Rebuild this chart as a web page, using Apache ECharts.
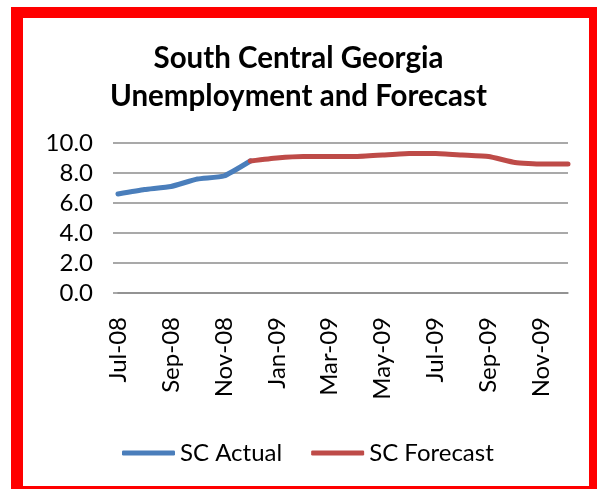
<!DOCTYPE html>
<html>
<head>
<meta charset="utf-8">
<script src="https://cdn.jsdelivr.net/npm/echarts@6/dist/echarts.min.js"></script>
<style>
  html, body { margin: 0; padding: 0; background: #fff; }
  #chart { width: 597px; height: 489px; }
</style>
</head>
<body>
<div id="chart"></div>
<script>
// Monthly categories, Jul 2008 through Dec 2009
const months = ['Jul-08','Aug-08','Sep-08','Oct-08','Nov-08','Dec-08',
                'Jan-09','Feb-09','Mar-09','Apr-09','May-09','Jun-09',
                'Jul-09','Aug-09','Sep-09','Oct-09','Nov-09','Dec-09'];
// Observed unemployment rate (%)
const scActual = [6.6, 6.9, 7.1, 7.6, 7.8, 8.8,
                  null, null, null, null, null, null,
                  null, null, null, null, null, null];
// Forecast unemployment rate (%), joined to the last observed month
const scForecast = [null, null, null, null, null, 8.8,
                    9.0, 9.1, 9.1, 9.1, 9.2, 9.3,
                    9.3, 9.2, 9.1, 8.7, 8.6, 8.6];
const yTicks = [0, 2, 4, 6, 8, 10];

const FONT = 'Lato, "Open Sans", sans-serif';
const chart = echarts.init(document.getElementById('chart'), null, { renderer: 'canvas' });

chart.setOption({
  backgroundColor: '#ffffff',
  animation: false,
  graphic: [
    { type: 'rect', z: -10, silent: true,
      shape: { x: 11, y: 7, width: 586, height: 482 },
      style: { fill: '#ff0000' } },
    { type: 'rect', z: -9, silent: true,
      shape: { x: 23, y: 18, width: 566, height: 468 },
      style: { fill: '#ffffff' } }
  ],
  title: {
    text: 'South Central Georgia\nUnemployment and Forecast',
    left: 'center',
    top: 34,
    textStyle: {
      fontFamily: FONT, fontWeight: 'bold', fontSize: 29.5,
      lineHeight: 38, color: '#000'
    }
  },
  legend: {
    left: 117,
    top: 436,
    itemWidth: 53,
    itemHeight: 5,
    itemGap: 29,
    icon: 'roundRect',
    textStyle: { fontFamily: FONT, fontSize: 24, color: '#000' },
    data: ['SC Actual', 'SC Forecast']
  },
  grid: { left: 118, right: 29, top: 143, bottom: 196, containLabel: false },
  xAxis: {
    type: 'category',
    data: months,
    boundaryGap: false,
    axisLine: { show: true, lineStyle: { color: '#8c8c8c', width: 1.5 } },
    axisTick: { show: false },
    axisLabel: {
      interval: 1, rotate: 90, margin: 24,
      fontFamily: FONT, fontSize: 24, color: '#000'
    }
  },
  yAxis: {
    type: 'value',
    min: yTicks[0],
    max: yTicks[yTicks.length - 1],
    interval: 2,
    axisLine: { show: false },
    axisTick: { show: true, length: 5, lineStyle: { color: '#8c8c8c', width: 1.5 } },
    splitLine: { lineStyle: { color: '#8c8c8c', width: 1.5 } },
    axisLabel: {
      margin: 25,
      fontFamily: FONT, fontSize: 24, color: '#000',
      formatter: v => v.toFixed(1)
    }
  },
  series: [
    {
      name: 'SC Actual', type: 'line', data: scActual,
      showSymbol: false, smooth: 0.15, connectNulls: false,
      itemStyle: { color: '#4a7ebb' },
      lineStyle: { color: '#4a7ebb', width: 5, cap: 'round', join: 'round' }
    },
    {
      name: 'SC Forecast', type: 'line', data: scForecast,
      showSymbol: false, smooth: 0.15, connectNulls: false,
      itemStyle: { color: '#be4b48' },
      lineStyle: { color: '#be4b48', width: 5, cap: 'round', join: 'round' }
    }
  ]
});
</script>
</body>
</html>
